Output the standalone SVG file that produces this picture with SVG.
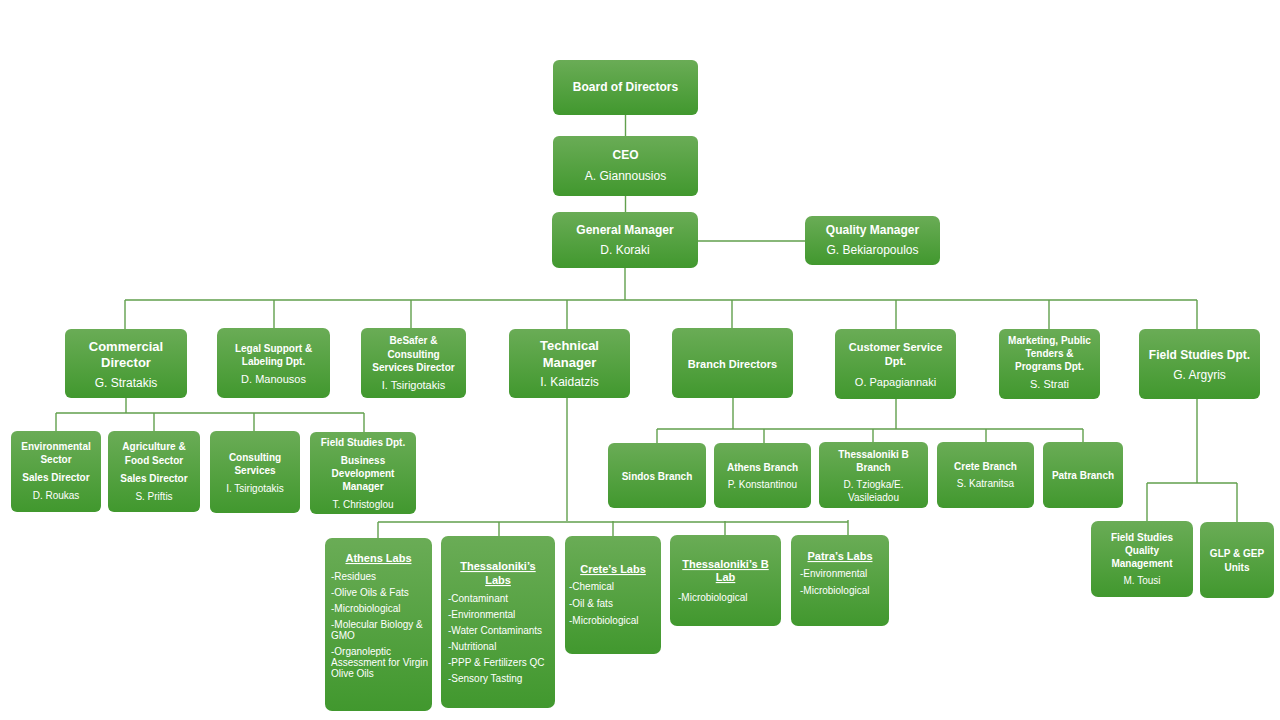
<svg xmlns="http://www.w3.org/2000/svg" width="1280" height="720" viewBox="0 0 1280 720">
<defs>
<linearGradient id="g" x1="0" y1="0" x2="0" y2="1">
<stop offset="0" stop-color="#6aac56"/>
<stop offset="1" stop-color="#41982e"/>
</linearGradient>
<style>
.box{fill:url(#g);}
text{font-family:"Liberation Sans",Arial,sans-serif;fill:#ffffff;text-anchor:middle;}
.b{font-weight:bold;}
.s13{font-size:13px;}
.s12{font-size:12px;}
.s11{font-size:11px;}
.s10{font-size:10px;}
.it{font-size:10px;text-anchor:start;}
.u{text-decoration:underline;}
#connectors path{fill:none;stroke:#62a04d;stroke-width:1.4;}
</style>
</defs>
<rect width="1280" height="720" fill="#ffffff"/>

<g id="connectors">
<path d="M625.5 115V136M625.5 196V212M698 241H805"/>
<path d="M625 268V300M125 300H1197M125 300V329M274 300V328M411 300V328M567 300V329M732 300V328M896 300V329M1049 300V329M1197 300V329"/>
<path d="M126 398V413M56 413H364M56 413V431M154 413V431M254 413V431M364 413V432"/>
<path d="M733 398V429M896 399V429M657 429H1083M657 429V443M764 429V443M873 429V442M986 429V442M1083 429V442"/>
<path d="M567 398V521M378 522H848M378 522V538M499 522V536M613 521V536M725 521V535M848 520V535"/>
<path d="M1197 399V483M1147 483H1237M1147 483V521M1237 483V522"/>
</g>

<g id="board"><rect class="box" x="553" y="60" width="145" height="55" rx="6"/>
<text class="b s12" x="625.5" y="91">Board of Directors</text></g>

<g id="ceo"><rect class="box" x="553" y="136" width="145" height="60" rx="6"/>
<text class="b s12" x="625.5" y="159">CEO</text>
<text class="s12" x="625.5" y="180">A. Giannousios</text></g>

<g id="gm"><rect class="box" x="552" y="212" width="146" height="56" rx="7"/>
<text class="b s12" x="625" y="234">General Manager</text>
<text class="s12" x="625" y="254">D. Koraki</text></g>

<g id="qm"><rect class="box" x="805" y="216" width="135" height="49" rx="7"/>
<text class="b s12" x="872.5" y="234">Quality Manager</text>
<text class="s12" x="872.5" y="254">G. Bekiaropoulos</text></g>

<g id="commercial"><rect class="box" x="65" y="329" width="122" height="69" rx="6"/>
<text class="b s13" x="126" y="351">Commercial</text>
<text class="b s13" x="126" y="367">Director</text>
<text class="s12" x="126" y="387">G. Stratakis</text></g>

<g id="legal"><rect class="box" x="217" y="328" width="113" height="70" rx="7"/>
<text class="b s10" x="273.5" y="352">Legal Support &amp;</text>
<text class="b s10" x="273.5" y="365">Labeling Dpt.</text>
<text class="s11" x="273.5" y="383">D. Manousos</text></g>

<g id="besafer"><rect class="box" x="361" y="328" width="105" height="70" rx="6"/>
<text class="b s10" x="413.5" y="344">BeSafer &amp;</text>
<text class="b s10" x="413.5" y="358">Consulting</text>
<text class="b s10" x="413.5" y="371">Services Director</text>
<text class="s11" x="413.5" y="389">I. Tsirigotakis</text></g>

<g id="technical"><rect class="box" x="509" y="329" width="121" height="69" rx="6"/>
<text class="b s13" x="569.5" y="350">Technical</text>
<text class="b s13" x="569.5" y="367">Manager</text>
<text class="s12" x="569.5" y="386">I. Kaidatzis</text></g>

<g id="branchdirectors"><rect class="box" x="672" y="328" width="121" height="70" rx="6"/>
<text class="b s11" x="732.5" y="368">Branch Directors</text></g>

<g id="customer"><rect class="box" x="835" y="329" width="121" height="70" rx="6"/>
<text class="b s11" x="895.5" y="351">Customer Service</text>
<text class="b s11" x="895.5" y="365">Dpt.</text>
<text class="s11" x="895.5" y="386">O. Papagiannaki</text></g>

<g id="marketing"><rect class="box" x="999" y="329" width="101" height="70" rx="6"/>
<text class="b s10" x="1049.5" y="344">Marketing, Public</text>
<text class="b s10" x="1049.5" y="357">Tenders &amp;</text>
<text class="b s10" x="1049.5" y="370">Programs Dpt.</text>
<text class="s11" x="1049.5" y="388">S. Strati</text></g>

<g id="fieldstudies"><rect class="box" x="1139" y="329" width="121" height="70" rx="6"/>
<text class="b s12" x="1199.5" y="359">Field Studies Dpt.</text>
<text class="s12" x="1199.5" y="379">G. Argyris</text></g>

<g id="environmental"><rect class="box" x="11" y="431" width="90" height="81" rx="6"/>
<text class="b s10" x="56" y="450">Environmental</text>
<text class="b s10" x="56" y="463">Sector</text>
<text class="b s10" x="56" y="481">Sales Director</text>
<text class="s10" x="56" y="499">D. Roukas</text></g>

<g id="agriculture"><rect class="box" x="108" y="431" width="92" height="81" rx="6"/>
<text class="b s10" x="154" y="450">Agriculture &amp;</text>
<text class="b s10" x="154" y="464">Food Sector</text>
<text class="b s10" x="154" y="482">Sales Director</text>
<text class="s10" x="154" y="500">S. Priftis</text></g>

<g id="consulting"><rect class="box" x="210" y="431" width="90" height="82" rx="6"/>
<text class="b s10" x="255" y="461">Consulting</text>
<text class="b s10" x="255" y="474">Services</text>
<text class="s10" x="255" y="492">I. Tsirigotakis</text></g>

<g id="fieldbdm"><rect class="box" x="310" y="432" width="106" height="82" rx="6"/>
<text class="b s10" x="363" y="446">Field Studies Dpt.</text>
<text class="b s10" x="363" y="464">Business</text>
<text class="b s10" x="363" y="477">Development</text>
<text class="b s10" x="363" y="490">Manager</text>
<text class="s10" x="363" y="508">T. Christoglou</text></g>

<g id="sindos"><rect class="box" x="608" y="443" width="98" height="65" rx="6"/>
<text class="b s10" x="657" y="480">Sindos Branch</text></g>

<g id="athensbranch"><rect class="box" x="714" y="443" width="97" height="65" rx="6"/>
<text class="b s10" x="762.5" y="471">Athens Branch</text>
<text class="s10" x="762.5" y="488">P. Konstantinou</text></g>

<g id="thessbbranch"><rect class="box" x="819" y="442" width="109" height="66" rx="6"/>
<text class="b s10" x="873.5" y="458">Thessaloniki B</text>
<text class="b s10" x="873.5" y="471">Branch</text>
<text class="s10" x="873.5" y="488">D. Tziogka/E.</text>
<text class="s10" x="873.5" y="501">Vasileiadou</text></g>

<g id="cretebranch"><rect class="box" x="937" y="442" width="97" height="66" rx="6"/>
<text class="b s10" x="985.5" y="470">Crete Branch</text>
<text class="s10" x="985.5" y="487">S. Katranitsa</text></g>

<g id="patrabranch"><rect class="box" x="1043" y="442" width="80" height="66" rx="6"/>
<text class="b s10" x="1083" y="479">Patra Branch</text></g>

<g id="athenslabs"><rect class="box" x="325" y="538" width="107" height="173" rx="7"/>
<text class="b s11 u" x="378.5" y="562">Athens Labs</text>
<text class="it" x="331" y="580">-Residues</text>
<text class="it" x="331" y="596">-Olive Oils &amp; Fats</text>
<text class="it" x="331" y="612">-Microbiological</text>
<text class="it" x="331" y="628">-Molecular Biology &amp;</text>
<text class="it" x="331" y="639">GMO</text>
<text class="it" x="331" y="655">-Organoleptic</text>
<text class="it" x="331" y="666">Assessment for Virgin</text>
<text class="it" x="331" y="677">Olive Oils</text></g>

<g id="thesslabs"><rect class="box" x="441" y="536" width="114" height="172" rx="7"/>
<text class="b s11 u" x="498" y="570">Thessaloniki’s</text>
<text class="b s11 u" x="498" y="584">Labs</text>
<text class="it" x="448" y="602">-Contaminant</text>
<text class="it" x="448" y="618">-Environmental</text>
<text class="it" x="448" y="634">-Water Contaminants</text>
<text class="it" x="448" y="650">-Nutritional</text>
<text class="it" x="448" y="666">-PPP &amp; Fertilizers QC</text>
<text class="it" x="448" y="682">-Sensory Tasting</text></g>

<g id="cretelabs"><rect class="box" x="565" y="536" width="96" height="118" rx="7"/>
<text class="b s11 u" x="613" y="573">Crete’s Labs</text>
<text class="it" x="569" y="590">-Chemical</text>
<text class="it" x="569" y="607">-Oil &amp; fats</text>
<text class="it" x="569" y="624">-Microbiological</text></g>

<g id="thessblab"><rect class="box" x="670" y="535" width="111" height="91" rx="7"/>
<text class="b s11 u" x="725.5" y="568">Thessaloniki’s B</text>
<text class="b s11 u" x="725.5" y="581">Lab</text>
<text class="it" x="678" y="601">-Microbiological</text></g>

<g id="patralabs"><rect class="box" x="791" y="535" width="98" height="91" rx="7"/>
<text class="b s11 u" x="840" y="560">Patra’s Labs</text>
<text class="it" x="800" y="577">-Environmental</text>
<text class="it" x="800" y="594">-Microbiological</text></g>

<g id="fsqm"><rect class="box" x="1091" y="521" width="102" height="76" rx="7"/>
<text class="b s10" x="1142" y="541">Field Studies</text>
<text class="b s10" x="1142" y="554">Quality</text>
<text class="b s10" x="1142" y="567">Management</text>
<text class="s10" x="1142" y="584">M. Tousi</text></g>

<g id="glp"><rect class="box" x="1200" y="522" width="74" height="76" rx="7"/>
<text class="b s10" x="1237" y="557">GLP &amp; GEP</text>
<text class="b s10" x="1237" y="571">Units</text></g>
</svg>
